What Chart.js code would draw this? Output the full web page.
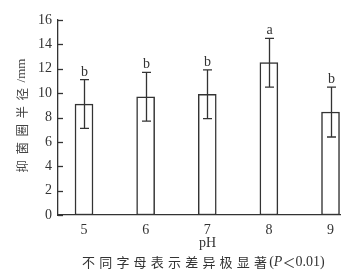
<!DOCTYPE html>
<html>
<head>
<meta charset="utf-8">
<script src="https://cdn.jsdelivr.net/npm/chart.js@4/dist/chart.umd.min.js"></script>
<style>
html,body{margin:0;padding:0;background:#fff;}
#wrap{width:363px;height:278px;position:relative;}
</style>
</head>
<body>
<div id="wrap"><canvas id="c" width="363" height="278"></canvas></div>
<script>
const categories = [5, 6, 7, 8, 9];
const means = [9.1, 9.7, 9.9, 12.5, 8.45];
const errors = [2.0, 2.0, 2.0, 2.0, 2.05];
const letters = ['b', 'b', 'b', 'a', 'b'];
const yTicks = [0, 2, 4, 6, 8, 10, 12, 14, 16];
const yTitleCJK = '抑菌圈半径';
const yTitleUnit = '/mm';
const xTitle = 'pH';
const captionCJK = '不同字母表示差异极显著';

const ink = '#333';
const serif = '"Liberation Serif", "DejaVu Serif", serif';
const cjk = '"Noto Sans CJK SC", sans-serif';

const extras = {
  id: 'extras',
  afterDatasetsDraw(chart) {
    const {ctx, chartArea: a, scales: {x, y}} = chart;
    ctx.save();
    ctx.strokeStyle = ink;
    ctx.lineWidth = 1.3;
    y.ticks.forEach(t => {
      const py = Math.round(y.getPixelForValue(t.value)) + 0.5;
      ctx.beginPath(); ctx.moveTo(a.left, py); ctx.lineTo(a.left + 5, py); ctx.stroke();
    });
    const meta = chart.getDatasetMeta(0);
    ctx.fillStyle = ink;
    ctx.font = '14px ' + serif;
    ctx.textAlign = 'center';
    ctx.textBaseline = 'alphabetic';
    meta.data.forEach((bar, i) => {
      const cx = Math.round(bar.x) + 0.5;
      const top = y.getPixelForValue(means[i] + errors[i]);
      const bot = y.getPixelForValue(means[i] - errors[i]);
      ctx.beginPath();
      ctx.moveTo(cx, top); ctx.lineTo(cx, bot);
      ctx.moveTo(cx - 4.5, top); ctx.lineTo(cx + 4.5, top);
      ctx.moveTo(cx - 4.5, bot); ctx.lineTo(cx + 4.5, bot);
      ctx.stroke();
      ctx.fillText(letters[i], cx, top - 4);
    });
    ctx.restore();
  },
  afterDraw(chart) {
    const {ctx, chartArea: a} = chart;
    ctx.save();
    ctx.fillStyle = ink;
    ctx.textBaseline = 'middle';
    ctx.font = '14px ' + serif;
    ctx.textAlign = 'center';
    ctx.fillText(xTitle, a.left + (a.right - a.left) * 0.53, a.bottom + 28);
    // caption
    const cy = a.bottom + 47;
    ctx.textAlign = 'left';
    ctx.font = '13px ' + cjk;
    ctx.letterSpacing = '4.2px';
    let cx = 82;
    ctx.fillText(captionCJK, cx, cy);
    cx += ctx.measureText(captionCJK).width - 2;
    ctx.letterSpacing = '0px';
    ctx.font = '14px ' + serif;
    ctx.fillText('(', cx, cy); cx += ctx.measureText('(').width;
    ctx.font = 'italic 14px ' + serif;
    ctx.fillText('P', cx, cy); cx += ctx.measureText('P').width;
    ctx.font = '13px ' + cjk;
    ctx.fillText('＜', cx, cy); cx += ctx.measureText('＜').width;
    ctx.font = '14px ' + serif;
    ctx.fillText('0.01)', cx, cy);
    // y title
    ctx.translate(22, (a.top + a.bottom) / 2 - 2);
    ctx.rotate(-Math.PI / 2);
    ctx.fillStyle = '#444';
    ctx.font = '12.5px ' + cjk;
    ctx.letterSpacing = '5.5px';
    const w1 = ctx.measureText(yTitleCJK).width;
    ctx.letterSpacing = '0px';
    ctx.font = '13px ' + serif;
    const w2 = ctx.measureText(yTitleUnit).width;
    let tx = -(w1 + w2) / 2;
    ctx.textAlign = 'left';
    ctx.font = '12.5px ' + cjk;
    ctx.letterSpacing = '5.5px';
    ctx.fillText(yTitleCJK, tx, 0);
    ctx.letterSpacing = '0px';
    ctx.font = '13px ' + serif;
    ctx.fillText(yTitleUnit, tx + w1, 0);
    ctx.restore();
  }
};

new Chart(document.getElementById('c'), {
  type: 'bar',
  data: {
    datasets: [{
      data: categories.map((c, i) => ({x: c, y: means[i]})),
      backgroundColor: '#fff',
      borderColor: ink,
      borderWidth: 1.5,
      borderSkipped: false,
      barThickness: 18
    }]
  },
  options: {
    responsive: false,
    animation: false,
    devicePixelRatio: 1,
    layout: {padding: {left: 0, top: 20, right: 23, bottom: 0}},
    plugins: {legend: {display: false}, tooltip: {enabled: false}},
    scales: {
      x: {
        type: 'linear',
        offset: false,
        min: 4.578,
        max: 9.154,
        afterBuildTicks: s => { s.ticks = categories.map(v => ({value: v})); },
        afterFit: s => { s.height = 63; },
        grid: {display: false, drawTicks: false, offset: false},
        border: {display: true, color: ink, width: 1.3},
        ticks: {color: ink, padding: 7, font: {family: serif, size: 14}, callback: v => String(v)}
      },
      y: {
        min: 0,
        max: 16,
        afterBuildTicks: s => { s.ticks = yTicks.map(v => ({value: v})); },
        afterFit: s => { s.width = 58; },
        grid: {display: false, drawTicks: false},
        border: {display: true, color: ink, width: 1.3},
        ticks: {color: ink, padding: 6, font: {family: serif, size: 14}}
      }
    }
  },
  plugins: [extras]
});
</script>
</body>
</html>
